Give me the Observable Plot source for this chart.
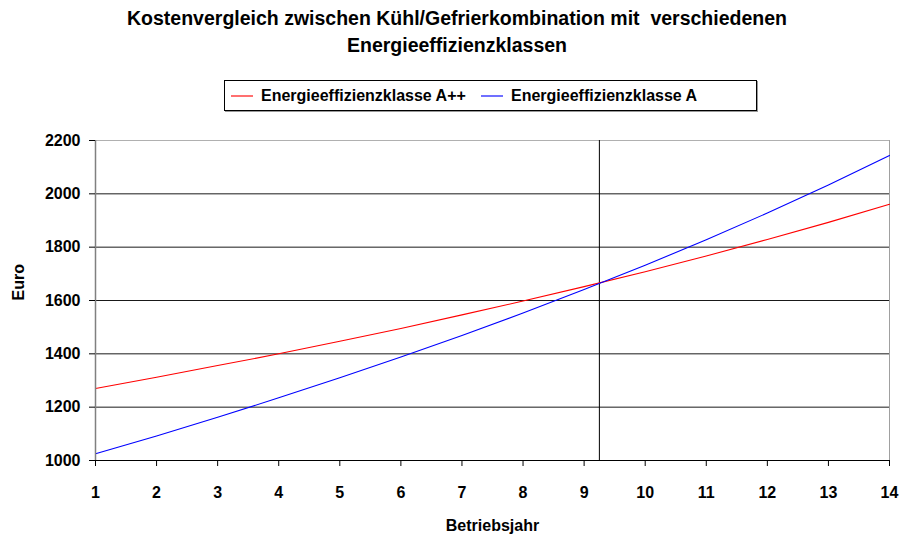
<!DOCTYPE html>
<html><head><meta charset="utf-8">
<script src="https://cdn.jsdelivr.net/npm/d3@7"></script>
<script src="https://cdn.jsdelivr.net/npm/@observablehq/plot@0.6"></script>
<style>
html,body{margin:0;padding:0;background:#fff;}
#wrap{position:relative;width:901px;height:540px;font-family:"Liberation Sans",Arial,sans-serif;font-weight:bold;color:#000;}
#title{position:absolute;left:0;width:914px;top:5px;text-align:center;font-size:19.5px;line-height:27px;}
#legend{position:absolute;left:224px;top:80px;width:531px;height:29px;border:1px solid #000;box-shadow:1px 1px 0 #999;font-size:16px;}
.item{position:absolute;top:6px;white-space:nowrap;}
.sw{display:inline-block;width:22px;height:1.5px;vertical-align:middle;margin-right:8px;position:relative;top:-1px;}
#chart{position:absolute;left:0;top:120px;}
</style></head>
<body><div id="wrap">
<div id="title">Kostenvergleich zwischen Kühl/Gefrierkombination mit&nbsp; verschiedenen<br>Energieeffizienzklassen</div>
<div id="legend"></div>
<div id="chart"></div>
</div>
<script>
const seriesNames = ["Energieeffizienzklasse A++", "Energieeffizienzklasse A"];
const seriesColors = ["#ff0000", "#0000ff"];
const years = [1,2,3,4,5,6,7,8,9,10,11,12,13,14];
const costAPlusPlus = [1270,1312,1356,1400,1447,1495,1546,1598,1652,1708,1767,1829,1893,1961];
const costA = [1025,1092,1162,1235,1310,1388,1469,1553,1641,1732,1828,1928,2033,2144];
const yTicks = [1000,1200,1400,1600,1800,2000,2200];
const xTicks = years;
const breakEvenYear = [9.25];

const data = [];
years.forEach((y,i)=>{
  data.push({year:y, cost:costAPlusPlus[i], s:seriesNames[0]});
  data.push({year:y, cost:costA[i], s:seriesNames[1]});
});

const leg = document.getElementById("legend");
const lx = [6, 256];
const swatch = ["#ff7070", "#7070ff"];
seriesNames.forEach((n,i)=>{
  const d = document.createElement("div");
  d.className="item"; d.style.left = lx[i]+"px";
  d.innerHTML = `<span class="sw" style="background:${swatch[i]}"></span>${n}`;
  leg.appendChild(d);
});

const plot = Plot.plot({
  width: 901, height: 420,
  marginLeft: 95, marginRight: 12, marginTop: 20, marginBottom: 80,
  style: {fontFamily:'"Liberation Sans",Arial,sans-serif', fontWeight:"bold", fontSize:"16px", background:"#fff", color:"#000"},
  x: {domain:[1,14]},
  y: {domain:[1000,2200]},
  color: {domain: seriesNames, range: seriesColors},
  marks: [
    Plot.gridY(yTicks.slice(1,-1), {stroke:"#000", strokeOpacity:0.9, strokeWidth:1}),
    Plot.ruleY([2200], {stroke:"#b0b0b0"}),
    Plot.ruleX([14], {stroke:"#a0a0a0"}),
    Plot.ruleX(breakEvenYear, {y1:1000, y2:2200, stroke:"#000", strokeWidth:1}),
    Plot.line(data, {x:"year", y:"cost", stroke:"s", strokeWidth:1.1}),
    Plot.ruleX([1], {stroke:"#808080", strokeWidth:1.5}),
    Plot.ruleY([1000], {stroke:"#000", strokeWidth:1.2}),
    Plot.axisY(yTicks, {tickSize:6, tickPadding:9, label:null, stroke:"#000", tickFormat:"d"}),
    Plot.axisX(xTicks, {tickSize:6, tickPadding:20, label:null, stroke:"#000", tickFormat:"d"}),
    Plot.text(["Euro"], {frameAnchor:"left", dx:-77, rotate:-90, fontSize:16}),
    Plot.text(["Betriebsjahr"], {frameAnchor:"bottom", dy:70, fontSize:16})
  ]
});
document.getElementById("chart").appendChild(plot);
</script>
</body></html>
